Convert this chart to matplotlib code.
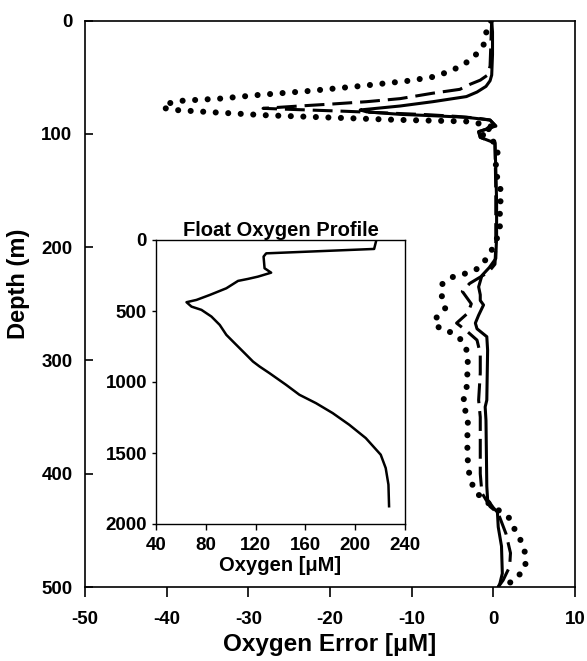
import matplotlib
matplotlib.use("Agg")
import matplotlib.pyplot as plt

plt.rcParams['font.family'] = ['Liberation Sans', 'DejaVu Sans']
plt.rcParams['font.weight'] = 'bold'
plt.rcParams['axes.unicode_minus'] = False

# ---- main panel data: depth (m) and oxygen error (uM) ----
solid_depth = [0, 10, 30, 48, 53, 58, 63, 67, 71.5, 75.3, 78.8, 80.5, 82.7, 83.9, 85.3, 87.7, 93, 98, 103, 108,
               130, 160, 190, 210, 218, 225, 235, 242, 247, 251, 260, 267, 272, 279, 291, 335, 341, 353,
               411, 423, 430, 434, 447, 464, 488, 497, 500]
solid_err = [-0.2, -0.1, -0.1, -0.2, -0.4, -0.9, -2.0, -3.3, -7.4, -11.4, -16.3, -15.5, -11.4, -7.4, -3.3, -0.4, 0.3, -1.8, -1.6, 0.2,
             0.3, 0.4, 0.4, 0.3, -0.5, -1.4, -1.8, -1.6, -1.6, -1.2, -1.8, -2.2, -2.0, -0.8, -0.7, -0.8, -1.0, -0.9,
             -0.8, -0.7, 0.0, 0.5, 0.6, 1.0, 1.1, 0.8, 0.6]

dash_depth = [0, 20, 40, 48, 52.5, 56, 60.6, 64, 68.8, 71.5, 73.5, 75.3, 77.4, 78.5, 80, 81.5, 83, 84.5, 86, 87.7,
              93, 98, 103, 108, 150, 200, 215, 222, 232, 239, 250, 258, 267, 275, 282, 294, 311, 335, 350,
              400, 417, 429, 435, 453, 470, 482, 494, 500]
dash_err = [-0.2, -0.3, -0.4, -0.7, -1.6, -2.8, -4.1, -7.4, -11.4, -15.5, -19.6, -23.7, -28.2, -24, -18, -13, -8, -4.5, -2, -0.4,
            0.3, -1.8, -1.6, 0.2, 0.3, 0.3, 0.2, -0.6, -2.9, -3.8, -2.7, -3.1, -4.5, -3.1, -2.0, -1.6, -1.6, -1.8, -1.6,
            -1.6, -1.4, -0.4, 0.6, 1.55, 2.1, 2.0, 1.2, 0.6]

dot_depth = [0, 11, 21.5, 33.2, 40.6, 45, 49.4, 53, 57.7, 62, 65.6, 68.8, 70.6, 73, 77, 79, 81, 83.5, 85.5, 87.5, 89,
             92, 94.5, 97, 102, 108, 120, 130, 142, 152, 164, 185, 197, 208, 218.6, 223, 226, 232.8, 243.7, 254,
             264.8, 271.6, 275.4, 282.5, 293.7, 316, 326.6, 338.4, 349.6, 372, 394, 405.5, 416, 425, 432, 439.4,
             449.7, 460.8, 472.6, 483, 493.8, 500]
dot_err = [-0.3, -0.9, -1.2, -2.5, -4.1, -5.5, -7.2, -10.3, -16.3, -22.5, -28.8, -33.5, -38.0, -39.8, -40.5, -38.6, -34, -27.8, -20, -12, -2.9,
           -1.0, 0.3, -1.5, -1.2, 0.3, 0.6, 0.2, 0.6, 1.0, 0.8, 0.8, 0.2, -0.6, -1.8, -3.3, -4.9, -6.3, -6.3, -5.9,
           -7.3, -6.6, -5.1, -3.8, -3.1, -3.2, -3.3, -3.8, -3.1, -3.2, -3.1, -2.8, -2.2, -0.8, 0.6, 2.0,
           2.65, 3.5, 4.0, 3.9, 2.65, 1.0]

# ---- inset data: float oxygen profile ----
prof_depth = [0, 63, 94, 117, 199, 230, 258, 274, 288, 340, 387, 422, 438, 469, 492, 539, 598, 668, 727, 797,
              856, 891, 938, 1020, 1090, 1149, 1219, 1301, 1395, 1512, 1606, 1723, 1875]
prof_oxy = [217, 215.2, 128.5, 126.4, 127.2, 132.5, 121.9, 113.9, 105.9, 96.5, 83.2, 72.5, 64.5, 68.5, 76.5, 84.5,
            91.2, 96.5, 103.2, 111.2, 117.9, 123.2, 131.2, 144.5, 155.2, 168.5, 181.9, 195.2, 208.5, 220.5,
            224.5, 226.7, 227.2]

main_xticks = [-50, -40, -30, -20, -10, 0, 10]
main_yticks = [0, 100, 200, 300, 400, 500]
inset_xticks = [40, 80, 120, 160, 200, 240]
inset_yticks = [0, 500, 1000, 1500, 2000]

fig = plt.figure(figsize=(5.87, 6.61), dpi=100)
ax = fig.add_axes([85 / 587, 1 - 587 / 661, 490 / 587, (587 - 20.7) / 661])

ax.plot(solid_err, solid_depth, color='black', lw=2.2, solid_joinstyle='round')
ax.plot(dash_err, dash_depth, color='black', lw=2.2, linestyle=(0, (6.5, 2.6)))
ax.plot(dot_err, dot_depth, color='black', lw=4.4, linestyle=(0, (0.001, 2.05)),
        dash_capstyle='round')

ax.set_xlim(-50, 10)
ax.set_ylim(500, 0)
ax.set_xticks(main_xticks)
ax.set_yticks(main_yticks)
ax.tick_params(axis='x', direction='out', length=7, width=1.2, pad=10, labelsize=13.5)
ax.tick_params(axis='y', direction='in', length=6, width=1.2, pad=9, labelsize=13.5)
for s in ax.spines.values():
    s.set_linewidth(1.2)
ax.set_xlabel('Oxygen Error [\u03bcM]', fontsize=17.5, fontweight='bold', labelpad=4)
ax.set_ylabel('Depth (m)', fontsize=17, fontweight='bold')
ax.yaxis.set_label_coords(-0.112, 0.535)

# inset
ins = fig.add_axes([156 / 587, 1 - 524 / 661, 249 / 587, 284 / 661])
ins.set_facecolor('white')
ins.plot(prof_oxy, prof_depth, color='black', lw=1.8)
ins.set_xlim(40, 240)
ins.set_ylim(2000, 0)
ins.set_xticks(inset_xticks)
ins.set_yticks(inset_yticks)
ins.tick_params(axis='x', direction='out', length=4, width=1.0, labelsize=13.5, pad=5)
ins.tick_params(axis='y', direction='out', length=3, width=1.0, labelsize=13.5, pad=3.5)
for s in ins.spines.values():
    s.set_linewidth(1.0)
ins.set_title('Float Oxygen Profile', fontsize=14.5, fontweight='bold', pad=3)
ins.set_xlabel('Oxygen [\u03bcM]', fontsize=14.5, fontweight='bold', labelpad=2)

fig.savefig('out.png', dpi=100)
